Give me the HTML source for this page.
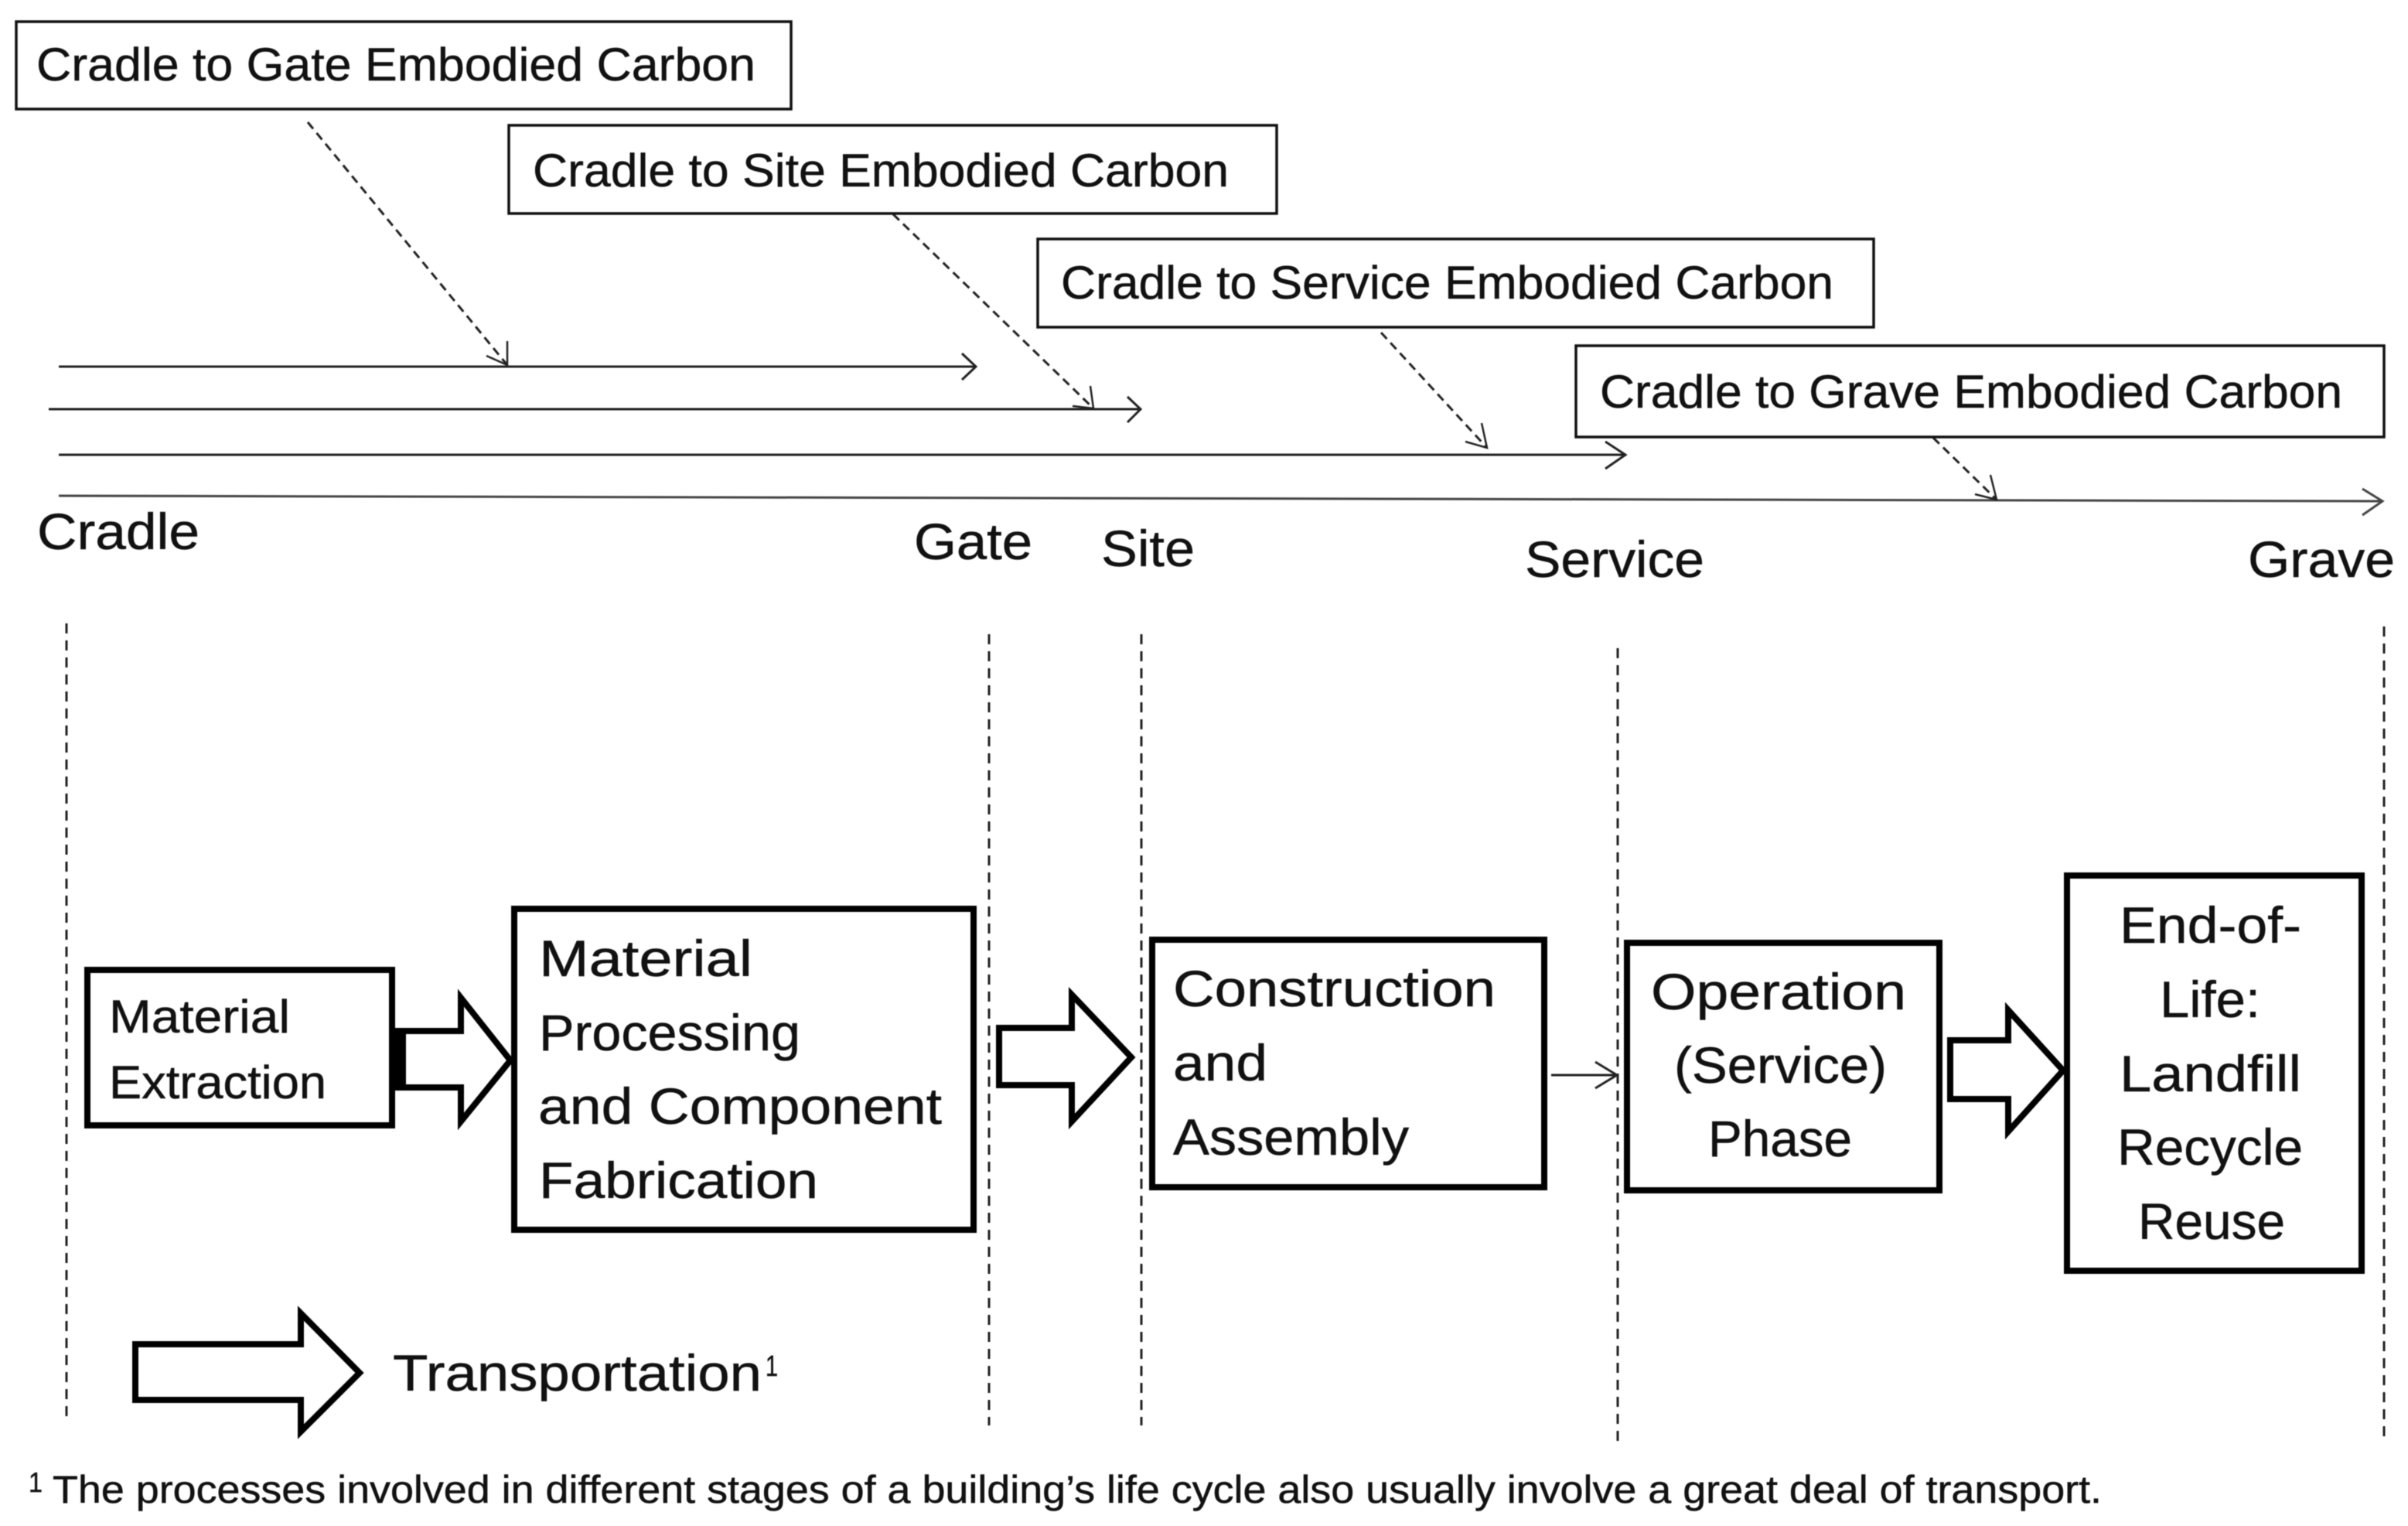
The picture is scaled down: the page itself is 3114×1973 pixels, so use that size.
<!DOCTYPE html>
<html>
<head>
<meta charset="utf-8">
<title>Cradle to Grave Embodied Carbon</title>
<style>
html,body{margin:0;padding:0;background:#fff;}
svg{display:block;}
text{font-family:"Liberation Sans",sans-serif;fill:#111;stroke:#111;stroke-width:0.5;}
.box{fill:#fff;stroke:#111;stroke-width:3.5;}
.pbox{fill:#fff;stroke:#000;stroke-width:8;}
.ln{fill:none;stroke:#222;stroke-width:3;}
.dl{fill:none;stroke:#222;stroke-width:3;stroke-dasharray:11 7;}
.hd{fill:none;stroke:#222;stroke-width:2.5;}
.vd{fill:none;stroke:#222;stroke-width:3;stroke-dasharray:13 9;}
.ba{fill:#fff;stroke:#000;stroke-width:8;stroke-linejoin:miter;stroke-miterlimit:10;}
</style>
</head>
<body>
<svg xmlns="http://www.w3.org/2000/svg" width="3114" height="1973" viewBox="0 0 3114 1973">
<rect width="3114" height="1973" fill="#fff"/>
<g style="filter:blur(0.6px)">
<!-- vertical dashed -->
<path class="vd" d="M86 806V1833"/>
<path class="vd" d="M1279 820V1843"/>
<path class="vd" d="M1476 820V1843"/>
<path class="vd" d="M2092 838V1864"/>
<path class="vd" d="M3083 810V1864"/>

<!-- solid horizontal arrows -->
<path class="ln" d="M76 474H1262M1244 457L1262 474L1244 491"/>
<path class="ln" d="M63 529H1475M1458 513L1475 529L1458 546"/>
<path class="ln" d="M76 588H2102M2076 571L2102 588L2076 606"/>
<path class="ln" style="stroke:#444" d="M76 641L3081 648M3055 632L3081 648L3055 666"/>

<!-- dashed pointers -->
<path class="dl" d="M398 158L656 472"/>
<path class="hd" d="M656 441L656 472L629 460"/>
<path class="dl" d="M1155 277L1414 528"/>
<path class="hd" d="M1410 499L1414 528L1387 525"/>
<path class="dl" d="M1786 430L1923 579"/>
<path class="hd" d="M1916 547L1923 579L1895 571"/>
<path class="dl" d="M2500 566L2582 646"/>
<path class="hd" d="M2574 614L2582 646L2554 639"/>

<!-- top boxes -->
<rect class="box" x="21" y="28" width="1002" height="113"/>
<rect class="box" x="658" y="162" width="993" height="114"/>
<rect class="box" x="1342" y="309" width="1081" height="114"/>
<rect class="box" x="2038" y="447" width="1045" height="118"/>

<text x="47" y="104" font-size="60" textLength="930" lengthAdjust="spacingAndGlyphs">Cradle to Gate Embodied Carbon</text>
<text x="689" y="241" font-size="60" textLength="900" lengthAdjust="spacingAndGlyphs">Cradle to Site Embodied Carbon</text>
<text x="1372" y="386" font-size="60" textLength="999" lengthAdjust="spacingAndGlyphs">Cradle to Service Embodied Carbon</text>
<text x="2069" y="527" font-size="60" textLength="960" lengthAdjust="spacingAndGlyphs">Cradle to Grave Embodied Carbon</text>

<!-- stage labels -->
<text x="48" y="710" font-size="66" textLength="210" lengthAdjust="spacingAndGlyphs">Cradle</text>
<text x="1182" y="723" font-size="66" textLength="153" lengthAdjust="spacingAndGlyphs">Gate</text>
<text x="1424" y="732" font-size="66" textLength="121" lengthAdjust="spacingAndGlyphs">Site</text>
<text x="1972" y="746" font-size="66" textLength="232" lengthAdjust="spacingAndGlyphs">Service</text>
<text x="2907" y="746" font-size="66" textLength="190" lengthAdjust="spacingAndGlyphs">Grave</text>

<!-- block arrows -->
<polygon class="ba" points="515,1333 596,1333 596,1290 660,1371 596,1450 596,1406 515,1406"/>
<rect x="511" y="1329" width="14" height="81" fill="#000"/>
<polygon class="ba" points="1292,1329 1386,1329 1386,1286 1463,1367 1386,1450 1386,1403 1292,1403"/>
<polygon class="ba" points="2522,1345 2597,1345 2597,1306 2668,1384 2597,1463 2597,1421 2522,1421"/>
<polygon class="ba" points="175,1738 389,1738 389,1698 465,1775 389,1851 389,1810 175,1810"/>

<!-- thin arrow -->
<path d="M2006 1390H2091M2063 1373L2091 1390L2063 1407" fill="none" stroke="#222" stroke-width="3"/>

<!-- process boxes -->
<rect class="pbox" x="113" y="1254" width="394" height="201"/>
<rect class="pbox" x="665" y="1175" width="594" height="415"/>
<rect class="pbox" x="1490" y="1215" width="507" height="320"/>
<rect class="pbox" x="2104" y="1219" width="404" height="320"/>
<rect class="pbox" x="2673" y="1132" width="381" height="511"/>

<text x="141" y="1335" font-size="60" textLength="234" lengthAdjust="spacingAndGlyphs">Material</text>
<text x="141" y="1420" font-size="60" textLength="281" lengthAdjust="spacingAndGlyphs">Extraction</text>

<text x="697" y="1262" font-size="66" textLength="276" lengthAdjust="spacingAndGlyphs">Material</text>
<text x="697" y="1358" font-size="66" textLength="338" lengthAdjust="spacingAndGlyphs">Processing</text>
<text x="696" y="1453" font-size="66" textLength="522" lengthAdjust="spacingAndGlyphs">and Component</text>
<text x="697" y="1549" font-size="66" textLength="361" lengthAdjust="spacingAndGlyphs">Fabrication</text>

<text x="1517" y="1301" font-size="66" textLength="417" lengthAdjust="spacingAndGlyphs">Construction</text>
<text x="1517" y="1397" font-size="66" textLength="122" lengthAdjust="spacingAndGlyphs">and</text>
<text x="1517" y="1493" font-size="66" textLength="305" lengthAdjust="spacingAndGlyphs">Assembly</text>

<text x="2135" y="1305" font-size="66" textLength="330" lengthAdjust="spacingAndGlyphs">Operation</text>
<text x="2165" y="1400" font-size="66" textLength="275" lengthAdjust="spacingAndGlyphs">(Service)</text>
<text x="2209" y="1495" font-size="66" textLength="186" lengthAdjust="spacingAndGlyphs">Phase</text>

<text x="2741" y="1219" font-size="66" textLength="235" lengthAdjust="spacingAndGlyphs">End-of-</text>
<text x="2793" y="1315" font-size="66" textLength="130" lengthAdjust="spacingAndGlyphs">Life:</text>
<text x="2741" y="1411" font-size="66" textLength="235" lengthAdjust="spacingAndGlyphs">Landfill</text>
<text x="2738" y="1506" font-size="66" textLength="240" lengthAdjust="spacingAndGlyphs">Recycle</text>
<text x="2765" y="1602" font-size="66" textLength="190" lengthAdjust="spacingAndGlyphs">Reuse</text>

<!-- legend -->
<text x="508" y="1798" font-size="66" textLength="477" lengthAdjust="spacingAndGlyphs">Transportation</text>
<text x="990" y="1779" font-size="38" textLength="16" lengthAdjust="spacingAndGlyphs">1</text>

<!-- footnote -->
<text x="37" y="1929" font-size="36" textLength="18" lengthAdjust="spacingAndGlyphs">1</text>
<text x="68" y="1943" font-size="50" textLength="2650" lengthAdjust="spacingAndGlyphs">The processes involved in different stages of a building’s life cycle also usually involve a great deal of transport.</text>
</g>
</svg>
</body>
</html>
